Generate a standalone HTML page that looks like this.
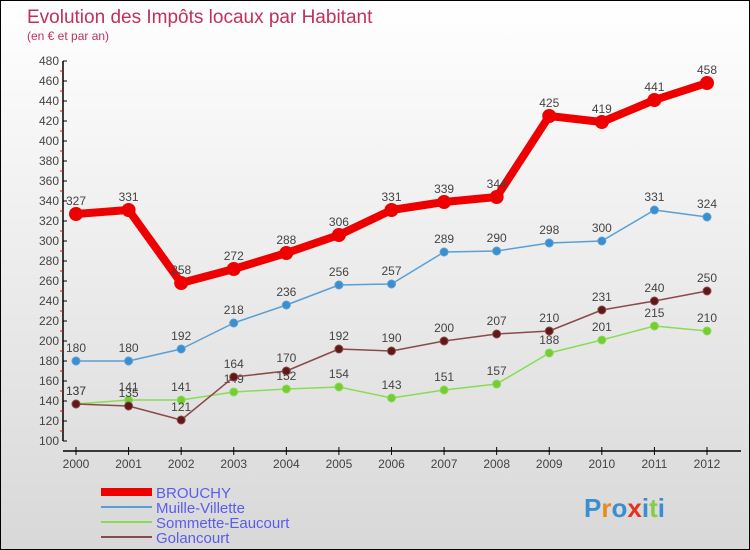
<!DOCTYPE html>
<html><head><meta charset="utf-8"><style>
body{margin:0}
#c{width:750px;height:550px;position:relative;background:linear-gradient(#ffffff,#d8d8d8);box-sizing:border-box;border:1px solid #000;font-family:"Liberation Sans",sans-serif;overflow:hidden}
</style></head><body>
<div id="c">
<svg id="s" width="750" height="550" style="position:absolute;left:0;top:0" font-family="Liberation Sans, sans-serif">
<text x="26" y="22" font-size="19" fill="#c0305a">Evolution des Impôts locaux par Habitant</text>
<text x="26" y="39" font-size="12" fill="#c0305a">(en € et par an)</text>
</svg>
</div>
<script>
const years=["2000","2001","2002","2003","2004","2005","2006","2007","2008","2009","2010","2011","2012"];
const brouchy=[327,331,258,272,288,306,331,339,344,425,419,441,458];
const muille=[180,180,192,218,236,256,257,289,290,298,300,331,324];
const sommette=[137,141,141,149,152,154,143,151,157,188,201,215,210];
const golancourt=[137,135,121,164,170,192,190,200,207,210,231,240,250];
const yTicks=[100,120,140,160,180,200,220,240,260,280,300,320,340,360,380,400,420,440,460,480];
const seriesNames=["BROUCHY","Muille-Villette","Sommette-Eaucourt","Golancourt"];
const s=document.getElementById('s'),NS="http://www.w3.org/2000/svg";
const X=i=>75+i*(706-75)/12, Y=v=>440-(v-100);
function el(t,a,txt){const e=document.createElementNS(NS,t);for(const k in a)e.setAttribute(k,a[k]);if(txt!=null)e.textContent=txt;s.appendChild(e);return e;}
let e=el('line',{x1:62,y1:60,x2:62,y2:440,stroke:'#000','stroke-width':1.5});

e=el('line',{x1:62,y1:450,x2:740,y2:450,stroke:'#000','stroke-width':1.5});

yTicks.forEach((v,i)=>{
 e=el('line',{x1:62,y1:Y(v),x2:66,y2:Y(v),stroke:'#000'});
 
 if(i<yTicks.length-1){e=el('line',{x1:59,y1:Y(v+10),x2:62,y2:Y(v+10),stroke:'#e00'});
 }
 e=el('text',{x:58,y:Y(v)+4,'text-anchor':'end','font-size':12,fill:'#444'},v);
 
});
years.forEach((y,i)=>{
 e=el('line',{x1:X(i),y1:446,x2:X(i),y2:454,stroke:'#000'});
 
 e=el('text',{x:X(i),y:467,'text-anchor':'middle','font-size':12,fill:'#444'},y);
 
});
function draw(data,color,w,r,fill,name){
 e=el('polyline',{points:data.map((v,i)=>X(i)+','+Y(v)).join(' '),fill:'none',stroke:color,'stroke-width':w,'stroke-linejoin':'round'});
 
 data.forEach((v,i)=>{
  e=el('circle',{cx:X(i),cy:Y(v),r:r,fill:fill,stroke:color,'stroke-width':1});
  
  e=el('text',{x:X(i),y:Y(v)-9,'text-anchor':'middle','font-size':12,fill:'#444'},v);
  
 });
}
draw(sommette,'#88dd55',1.5,4,'#77cc33','sommette');
draw(golancourt,'#8b4a4a',1.5,4,'#601818','golancourt');
draw(muille,'#5a9fd4',1.5,4,'#3a8fd0','muille');
draw(brouchy,'#ee0000',8,6.5,'#ee0000','brouchy');
const lc=['#ee0000','#5a9fd4','#88dd55','#8b4a4a'],lw=[8,2,2,2];
seriesNames.forEach((n,i)=>{
 const y=491+i*15;
 e=el('line',{x1:100,y1:y,x2:151,y2:y,stroke:lc[i],'stroke-width':lw[i]});
 
 e=el('text',{x:155,y:y+6,'font-size':15,fill:'#5b5bf0'},n);
 
});
e=el('text',{x:583,y:516,'font-size':26,'font-weight':'bold',fill:'#3a8fd0'});

[['P','#3a8fd0'],['r','#e88a20'],['o','#3a8fd0'],['x','#e83020'],['i','#3a8fd0'],['t','#88cc44'],['i','#3a8fd0']].forEach(([c,f])=>{const t=document.createElementNS(NS,'tspan');t.setAttribute('fill',f);t.textContent=c;e.appendChild(t);});
</script>
</body></html>
